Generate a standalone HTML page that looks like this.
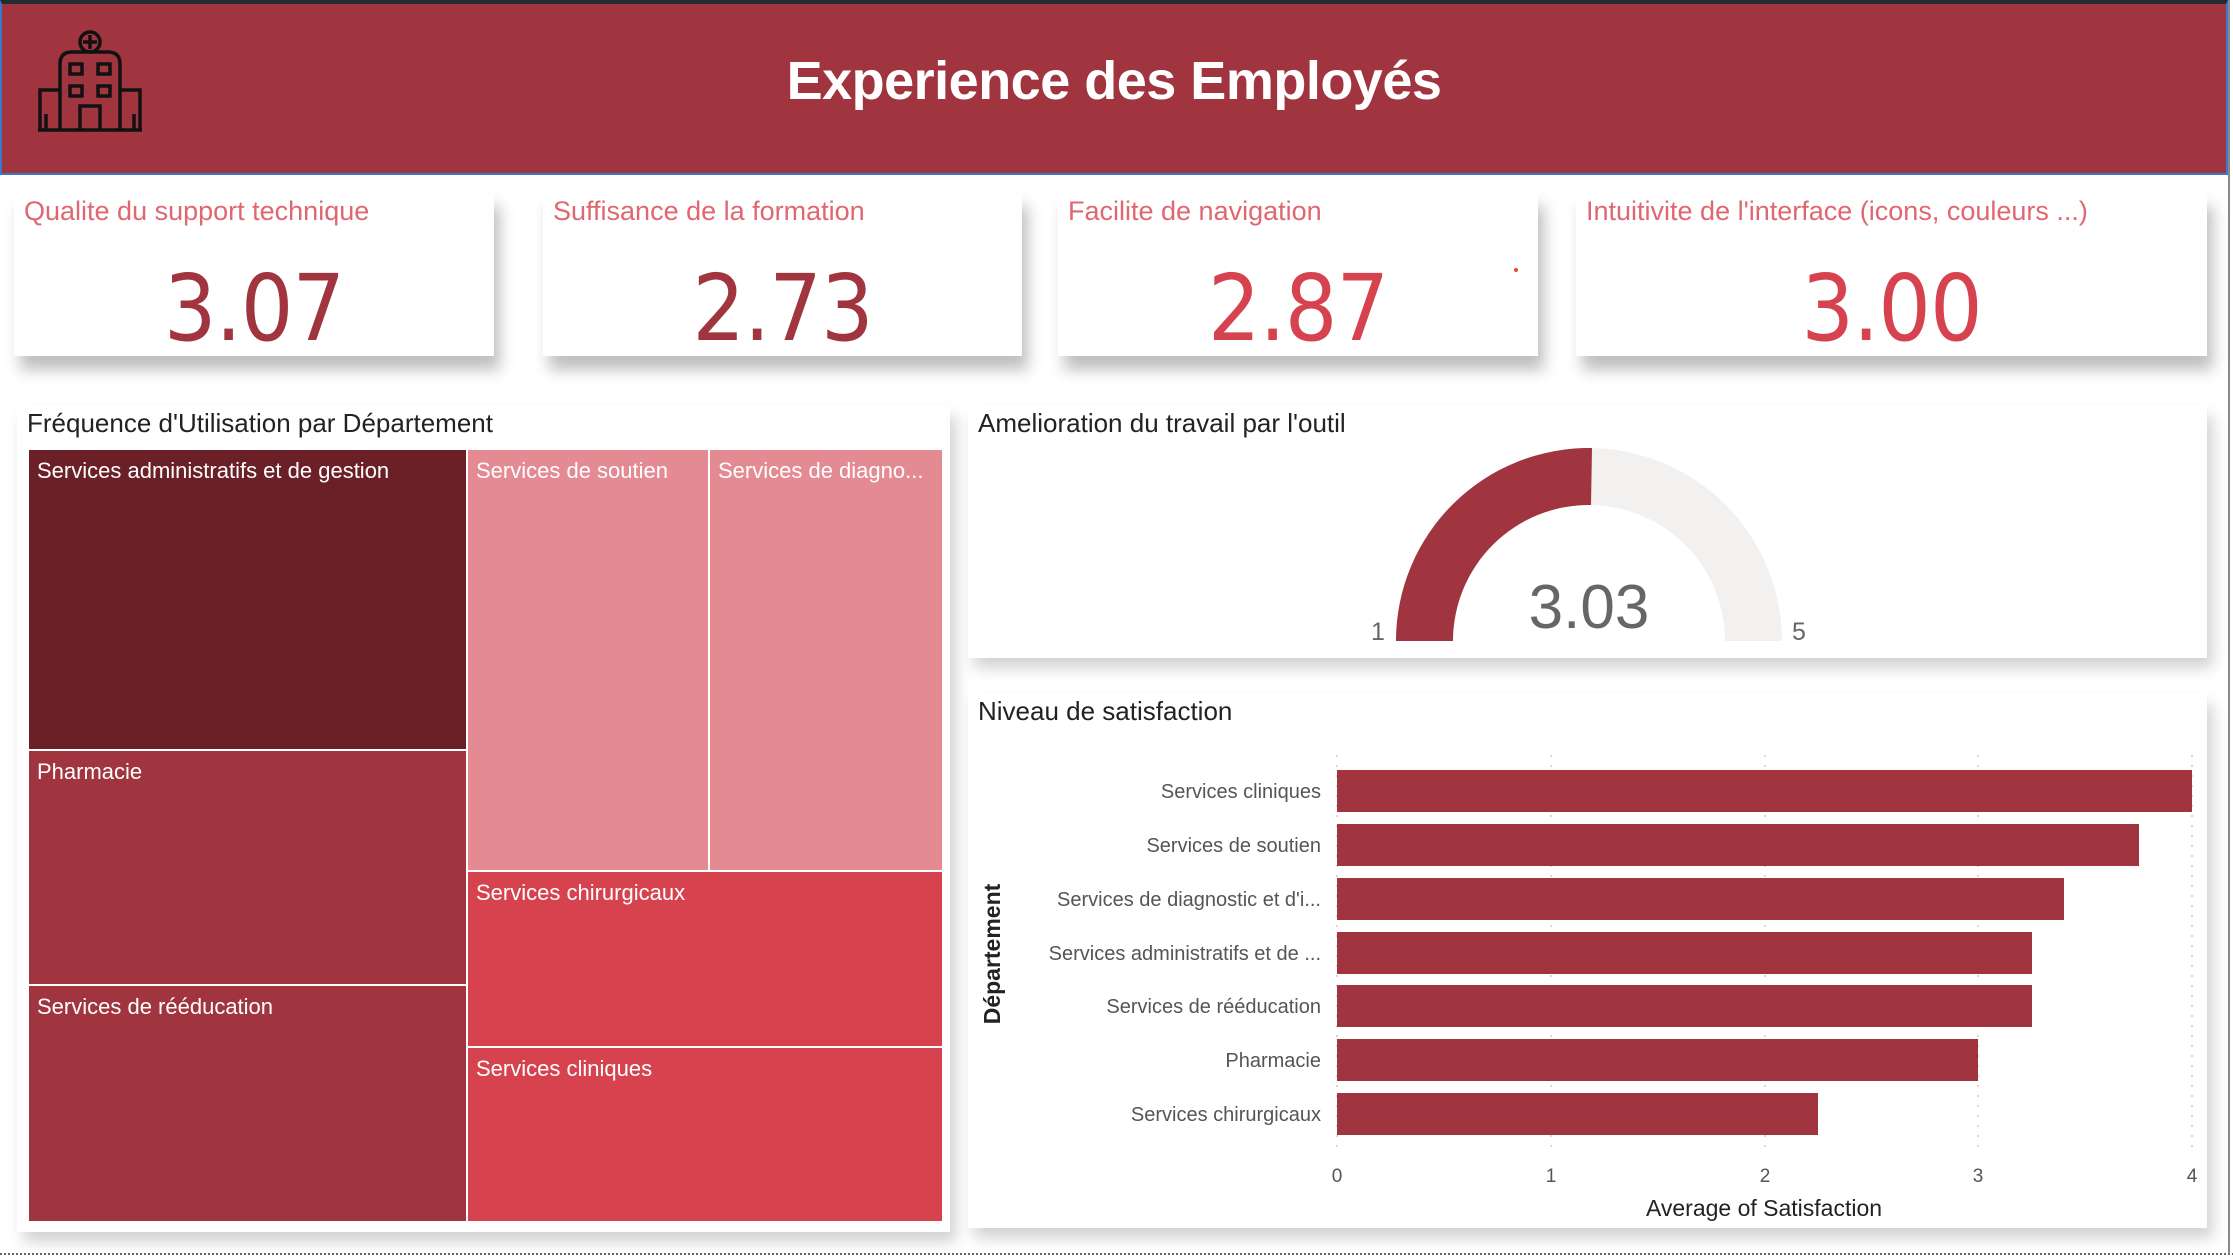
<!DOCTYPE html>
<html><head><meta charset="utf-8"><style>
*{margin:0;padding:0;box-sizing:border-box}
body{width:2233px;height:1258px;background:#fff;position:relative;overflow:hidden;font-family:"Liberation Sans",sans-serif}
.abs{position:absolute}
.hdr{left:0;top:0;width:2228px;height:175px;background:#A0343F;border-top:4px solid #252b33;border-bottom:2px solid #3a78c8;border-left:2px solid #3a78c8;border-right:2px solid #3a78c8}
.title{left:0;width:2228px;top:50px;text-align:center;color:#fff;font-weight:bold;font-size:54px;letter-spacing:-0.5px}
.card{background:#fff;box-shadow:6px 14px 14px rgba(0,0,0,0.25)}
.ct{position:absolute;left:10px;top:4px;color:#E06670;font-size:27px;white-space:nowrap}
.cv{position:absolute;left:0;right:0;top:63px;text-align:center;font-size:92px;font-family:"DejaVu Sans Condensed","Liberation Sans Narrow","Liberation Sans",sans-serif;letter-spacing:-1px}
.panel{background:#fff;box-shadow:6px 10px 14px rgba(0,0,0,0.18)}
.pt{position:absolute;left:10px;top:2px;font-size:26px;color:#222}
.cell{position:absolute;color:#fff;font-size:22px;padding:8px 8px;border:1.5px solid #fff;white-space:nowrap;overflow:hidden}
</style></head><body>
<div class="abs hdr"></div>
<svg class="abs" style="left:38px;top:30px" width="110" height="104" viewBox="0 0 110 104" fill="none" stroke="#111" stroke-width="3.5">
<circle cx="52" cy="12" r="10"/><path d="M52 5v14M45 12h14"/>
<path d="M22 100V34q0-12 12-12h36q12 0 12 12v66"/>
<rect x="32" y="34" width="12" height="10"/><rect x="60" y="34" width="12" height="10"/>
<rect x="32" y="56" width="12" height="10"/><rect x="60" y="56" width="12" height="10"/>
<path d="M42 100V76h20v24"/>
<path d="M2 100V60h20M82 60h20v40"/><path d="M8 100V84M96 100V84"/>
<path d="M0 100h104"/>
</svg>
<div class="abs title">Experience des Employés</div>

<div class="abs card" style="left:14px;top:192px;width:480px;height:164px"><div class="ct">Qualite du support technique</div><div class="cv" style="color:#A0343F">3.07</div></div>
<div class="abs card" style="left:543px;top:192px;width:479px;height:164px"><div class="ct">Suffisance de la formation</div><div class="cv" style="color:#A0343F">2.73</div></div>
<div class="abs card" style="left:1058px;top:192px;width:480px;height:164px"><div class="ct">Facilite de navigation</div><div class="cv" style="color:#D6434F">2.87</div><div class="abs" style="left:456px;top:76px;width:4px;height:4px;background:#e05020;border-radius:2px"></div></div>
<div class="abs card" style="left:1576px;top:192px;width:631px;height:164px"><div class="ct">Intuitivite de l'interface (icons, couleurs ...)</div><div class="cv" style="color:#D6434F">3.00</div></div>

<div class="abs panel" style="left:17px;top:406px;width:933px;height:826px"><div class="pt">Fréquence d'Utilisation par Département</div></div>
<div class="cell" style="left:28px;top:449px;width:439px;height:301px;background:#6B2027">Services administratifs et de gestion</div>
<div class="cell" style="left:28px;top:750px;width:439px;height:235px;background:#A0343F">Pharmacie</div>
<div class="cell" style="left:28px;top:985px;width:439px;height:237px;background:#A0343F">Services de rééducation</div>
<div class="cell" style="left:467px;top:449px;width:242px;height:422px;background:#E48A93">Services de soutien</div>
<div class="cell" style="left:709px;top:449px;width:234px;height:422px;background:#E48A93">Services de diagno...</div>
<div class="cell" style="left:467px;top:871px;width:476px;height:176px;background:#D6434F">Services chirurgicaux</div>
<div class="cell" style="left:467px;top:1047px;width:476px;height:175px;background:#D6434F">Services cliniques</div>

<div class="abs panel" style="left:968px;top:406px;width:1239px;height:252px"><div class="pt">Amelioration du travail par l'outil</div></div>
<svg class="abs" style="left:0;top:0" width="2233" height="700">
<path d="M1396 641A193 193 0 0 1 1782 641L1725 641A136 136 0 0 0 1453 641Z" fill="#F2F1F0"/>
<path d="M1396 641A193 193 0 0 1 1592 448L1591 505A136 136 0 0 0 1453 641Z" fill="#A0343F"/>
<text x="1589" y="628" text-anchor="middle" font-family="Liberation Sans Narrow,Liberation Sans,sans-serif" font-size="62" fill="#666">3.03</text>
<text x="1378" y="640" text-anchor="middle" font-family="Liberation Sans,sans-serif" font-size="25" fill="#666">1</text>
<text x="1799" y="640" text-anchor="middle" font-family="Liberation Sans,sans-serif" font-size="25" fill="#666">5</text>
</svg>

<div class="abs panel" style="left:968px;top:694px;width:1239px;height:534px"><div class="pt">Niveau de satisfaction</div></div>
<svg class="abs" style="left:0;top:0" width="2233" height="1258" font-family="Liberation Sans,sans-serif">
<g stroke="#ccc" stroke-dasharray="2 8" stroke-width="1.5">
<line x1="1337" y1="755" x2="1337" y2="1150"/><line x1="1551" y1="755" x2="1551" y2="1150"/><line x1="1765" y1="755" x2="1765" y2="1150"/><line x1="1978" y1="755" x2="1978" y2="1150"/><line x1="2192" y1="755" x2="2192" y2="1150"/>
</g>
<g fill="#A0343F">
<rect x="1337" y="770" width="855" height="42"/>
<rect x="1337" y="824" width="802" height="42"/>
<rect x="1337" y="878" width="727" height="42"/>
<rect x="1337" y="932" width="695" height="42"/>
<rect x="1337" y="985" width="695" height="42"/>
<rect x="1337" y="1039" width="641" height="42"/>
<rect x="1337" y="1093" width="481" height="42"/>
</g>
<g font-size="20" fill="#555" text-anchor="end">
<text x="1321" y="798">Services cliniques</text>
<text x="1321" y="852">Services de soutien</text>
<text x="1321" y="906">Services de diagnostic et d'i...</text>
<text x="1321" y="960">Services administratifs et de ...</text>
<text x="1321" y="1013">Services de rééducation</text>
<text x="1321" y="1067">Pharmacie</text>
<text x="1321" y="1121">Services chirurgicaux</text>
</g>
<g font-size="19" fill="#555" text-anchor="middle">
<text x="1337" y="1182">0</text><text x="1551" y="1182">1</text><text x="1765" y="1182">2</text><text x="1978" y="1182">3</text><text x="2192" y="1182">4</text>
</g>
<text x="1764" y="1216" text-anchor="middle" font-size="23" fill="#222">Average of Satisfaction</text>
<text transform="translate(1000 954) rotate(-90)" text-anchor="middle" font-size="23" font-weight="bold" fill="#222">Département</text>
<line x1="0" y1="1254" x2="2233" y2="1254" stroke="#666" stroke-width="2" stroke-dasharray="2 2"/>
<line x1="2229" y1="0" x2="2229" y2="1254" stroke="#888" stroke-width="2"/>
</svg>
</body></html>
